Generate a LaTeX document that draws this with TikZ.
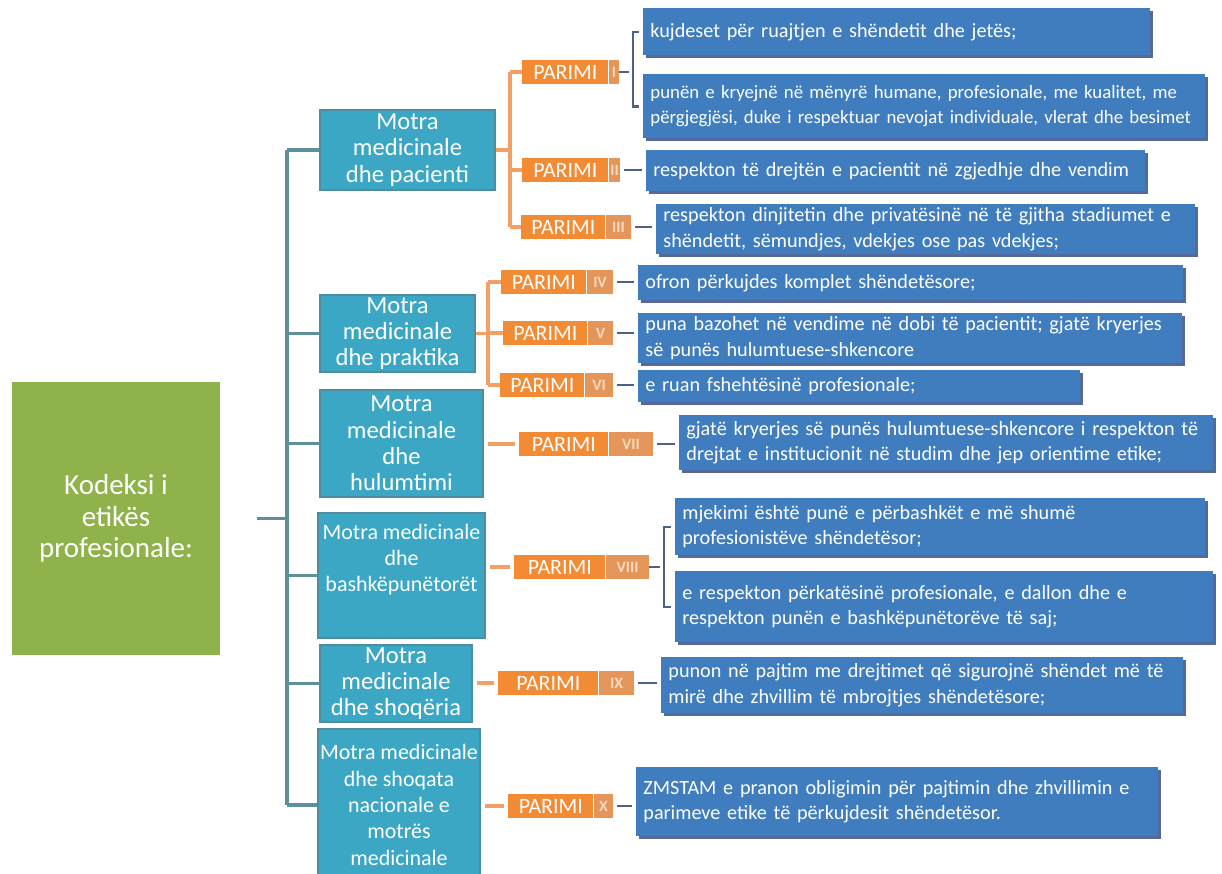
\documentclass[tikz,border=0pt]{standalone}
\usepackage{fontspec}
\setmainfont{Carlito}
\usepackage{tikz}
\usetikzlibrary{positioning}
\usetikzlibrary{shadows}

\definecolor{kodeksgreen}{HTML}{8FB24B}
\definecolor{motrablue}{HTML}{3BA7C4}
\definecolor{motraframe}{HTML}{4E8C9E}
\definecolor{parimiorange}{HTML}{F38A34}
\definecolor{nrorange}{HTML}{E3955A}
\definecolor{nrtext}{HTML}{FAD9BC}
\definecolor{pikablue}{HTML}{3F7DBF}
\definecolor{pikashade}{HTML}{55699A}
\definecolor{spinecolor}{HTML}{5F8F99}
\definecolor{olinecolor}{HTML}{F2A065}
\definecolor{blinecolor}{HTML}{4D6285}

\begin{document}
\begin{tikzpicture}[x=0.02cm, y=-0.02cm,
    kodeks/.style={fill=kodeksgreen, text=white, align=center,
        font=\fontsize{16.5}{18}\selectfont,
        minimum width=4.16cm, minimum height=5.46cm, inner sep=2pt},
    motra/.style={fill=motrablue, draw=motraframe, line width=1.2pt, text=white,
        align=center, font=\fontsize{14}{15}\selectfont, inner sep=1pt},
    parimi/.style={fill=parimiorange, text=white, anchor=west,
        font=\fontsize{12.5}{14}\selectfont,
        minimum width=1.72cm, minimum height=0.48cm, inner sep=0pt},
    nr/.style={fill=nrorange, text=nrtext, font=\fontsize{9}{10}\selectfont\bfseries,
        minimum height=0.48cm, inner sep=0pt},
    pika/.style={fill=pikablue, text=white, anchor=north west, align=left,
        font=\fontsize{11.5}{14.5}\selectfont, inner xsep=4pt, inner ysep=2pt,
        drop shadow={shadow xshift=0.6mm, shadow yshift=-0.6mm, fill=pikashade, opacity=1}},
    spine/.style={draw=spinecolor, line width=1.8pt},
    oline/.style={draw=olinecolor, line width=1.8pt},
    bline/.style={draw=blinecolor, line width=1.5pt, shorten <=2.3pt, shorten >=2.3pt}]

    \useasboundingbox (0,0) rectangle (1222,874);
    \fill[white] (0,0) rectangle (1222,874);

    % kodeksi
    \node[kodeks] (k) at (116,518.5) {Kodeksi i\\ etikës\\ profesionale:};

    % motra medicinale
    \node[motra, minimum width=3.5cm, minimum height=1.6cm] (m1) at (407.5,150) {Motra\\ medicinale\\ dhe pacienti};
    \node[motra, minimum width=3.1cm, minimum height=1.54cm] (m2) at (397.5,333.5) {Motra\\ medicinale\\ dhe praktika};
    \node[motra, minimum width=3.26cm, minimum height=2.14cm] (m3) at (401.5,443.5) {Motra\\ medicinale\\ dhe\\ hulumtimi};
    \node[motra, font=\fontsize{12.5}{15}\selectfont, minimum width=3.34cm, minimum height=2.5cm, text depth=20pt] (m4) at (401.5,575.5) {Motra medicinale\\ dhe\\ bashkëpunëtorët};
    \node[motra, minimum width=3.04cm, minimum height=1.54cm] (m5) at (396,683.5) {Motra\\ medicinale\\ dhe shoqëria};
    \node[motra, font=\fontsize{12.5}{15}\selectfont, minimum width=3.24cm, minimum height=3.04cm] (m6) at (399,805) {Motra medicinale\\ dhe shoqata\\ nacionale e\\ motrës\\ medicinale};

    % parimet
    \node[parimi] (p1) at (522,72) {PARIMI};
    \node[nr, minimum width=0.2cm, right=0pt of p1] (n1) {I};
    \node[parimi] (p2) at (522,170) {PARIMI};
    \node[nr, minimum width=0.22cm, right=0pt of p2] (n2) {II};
    \node[parimi, minimum width=1.68cm] (p3) at (521,227) {PARIMI};
    \node[nr, minimum width=0.5cm, right=0pt of p3] (n3) {III};
    \node[parimi, minimum width=1.7cm] (p4) at (501,282) {PARIMI};
    \node[nr, minimum width=0.52cm, right=0pt of p4] (n4) {IV};
    \node[parimi, minimum width=1.68cm] (p5) at (503,333) {PARIMI};
    \node[nr, minimum width=0.5cm, right=0pt of p5] (n5) {V};
    \node[parimi, minimum width=1.68cm] (p6) at (500,385) {PARIMI};
    \node[nr, minimum width=0.56cm, right=0pt of p6] (n6) {VI};
    \node[parimi, minimum width=1.78cm] (p7) at (519,444) {PARIMI};
    \node[nr, minimum width=0.88cm, right=0pt of p7] (n7) {VII};
    \node[parimi, minimum width=1.82cm] (p8) at (514,567) {PARIMI};
    \node[nr, minimum width=0.86cm, right=0pt of p8] (n8) {VIII};
    \node[parimi, minimum width=2.0cm] (p9) at (498,683) {PARIMI};
    \node[nr, minimum width=0.7cm, right=0pt of p9] (n9) {IX};
    \node[parimi, minimum width=1.7cm] (p10) at (508,806) {PARIMI};
    \node[nr, minimum width=0.38cm, right=0pt of p10] (n10) {X};

    % pikat
    \node[pika, text width=9.86cm, minimum height=0.94cm] (t1) at (643,8) {kujdeset për ruajtjen e shëndetit dhe jetës;};
    \node[pika, font=\fontsize{10.7}{14.5}\selectfont, text width=10.96cm, minimum height=1.28cm] (t2) at (643,74) {\mbox{punën e kryejnë në mënyrë humane, profesionale, me kualitet, me}\\ \mbox{përgjegjësi, duke i respektuar nevojat individuale, vlerat dhe besimet}};
    \node[pika, text width=9.70cm, minimum height=0.82cm] (t3) at (646,150) {respekton të drejtën e pacientit në zgjedhje dhe vendim};
    \node[pika, text width=10.50cm, minimum height=0.96cm] (t4) at (656,204) {respekton dinjitetin dhe privatësinë në të gjitha stadiumet e\\ shëndetit, sëmundjes, vdekjes ose pas vdekjes;};
    \node[pika, text width=10.62cm, minimum height=0.70cm] (t5) at (638,265) {ofron përkujdes komplet shëndetësore;};
    \node[pika, text width=10.60cm, minimum height=0.88cm] (t6) at (638,313) {puna bazohet në vendime në dobi të pacientit; gjatë kryerjes\\ së punës hulumtuese-shkencore};
    \node[pika, text width=8.56cm, minimum height=0.64cm] (t7) at (638,370) {e ruan fshehtësinë profesionale;};
    \node[pika, text width=10.40cm, minimum height=1.10cm] (t8) at (679,415) {gjatë kryerjes së punës hulumtuese-shkencore i respekton të\\ drejtat e institucionit në studim dhe jep orientime etike;};
    \node[pika, text width=10.32cm, minimum height=1.14cm] (t9) at (675,498) {mjekimi është punë e përbashkët e më shumë\\ profesionistëve shëndetësor;};
    \node[pika, text width=10.48cm, minimum height=1.42cm] (t10) at (675,571) {e respekton përkatësinë profesionale, e dallon dhe e\\ respekton punën e bashkëpunëtorëve të saj;};
    \node[pika, text width=10.16cm, minimum height=1.12cm] (t11) at (661,657) {punon në pajtim me drejtimet që sigurojnë shëndet më të\\ mirë dhe zhvillim të mbrojtjes shëndetësore;};
    \node[pika, text width=10.16cm, minimum height=1.38cm] (t12) at (636,767) {ZMSTAM e pranon obligimin për pajtimin dhe zhvillimin e\\ parimeve etike të përkujdesit shëndetësor.};

    % lidhjet
    \coordinate (s) at (287,518);
    \draw[spine, shorten <=0.74cm] (k.east) -- (k.east -| s);
    \draw[spine] (s |- m1.west) -- (s |- m6.west);
    \foreach \i in {1,...,6}
        \draw[spine] (s |- m\i.west) -- (m\i.west);

    \coordinate (o1) at (510,150);
    \draw[oline] (m1.east) -- (m1.east -| o1);
    \draw[oline] (p1.west -| o1) -- (p3.west -| o1);
    \foreach \i in {1,2,3}
        \draw[oline] (p\i.west -| o1) -- (p\i.west);
    \coordinate (o2) at (488,333);
    \draw[oline] (m2.east) -- (m2.east -| o2);
    \draw[oline] (p4.west -| o2) -- (p6.west -| o2);
    \foreach \i in {4,5,6}
        \draw[oline] (p\i.west -| o2) -- (p\i.west);
    \draw[oline, shorten <=2.3pt, shorten >=2.3pt] (p7.west -| m3.east) -- (p7.west);
    \draw[oline, shorten <=2.3pt, shorten >=2.3pt] (p8.west -| m4.east) -- (p8.west);
    \draw[oline, shorten <=2.3pt, shorten >=2.3pt] (p9.west -| m5.east) -- (p9.west);
    \draw[oline, shorten <=2.3pt, shorten >=2.3pt] (p10.west -| m6.east) -- (p10.west);

    \coordinate (b1) at (633,72);
    \draw[bline, shorten <=0pt] (n1.east) -- (b1);
    \draw[bline] (t1.west) -| (b1) |- (t2.west);
    \coordinate (b8) at (664,567);
    \draw[bline, shorten <=0pt] (n8.east) -- (b8);
    \draw[bline] (t9.west) -| (b8) |- (t10.west);
    \draw[bline] (n2.east) -- (n2.east -| t3.west);
    \draw[bline] (n3.east) -- (n3.east -| t4.west);
    \draw[bline] (n4.east) -- (n4.east -| t5.west);
    \draw[bline] (n5.east) -- (n5.east -| t6.west);
    \draw[bline] (n6.east) -- (n6.east -| t7.west);
    \draw[bline] (n7.east) -- (n7.east -| t8.west);
    \draw[bline] (n9.east) -- (n9.east -| t11.west);
    \draw[bline] (n10.east) -- (n10.east -| t12.west);
\end{tikzpicture}
\end{document}
